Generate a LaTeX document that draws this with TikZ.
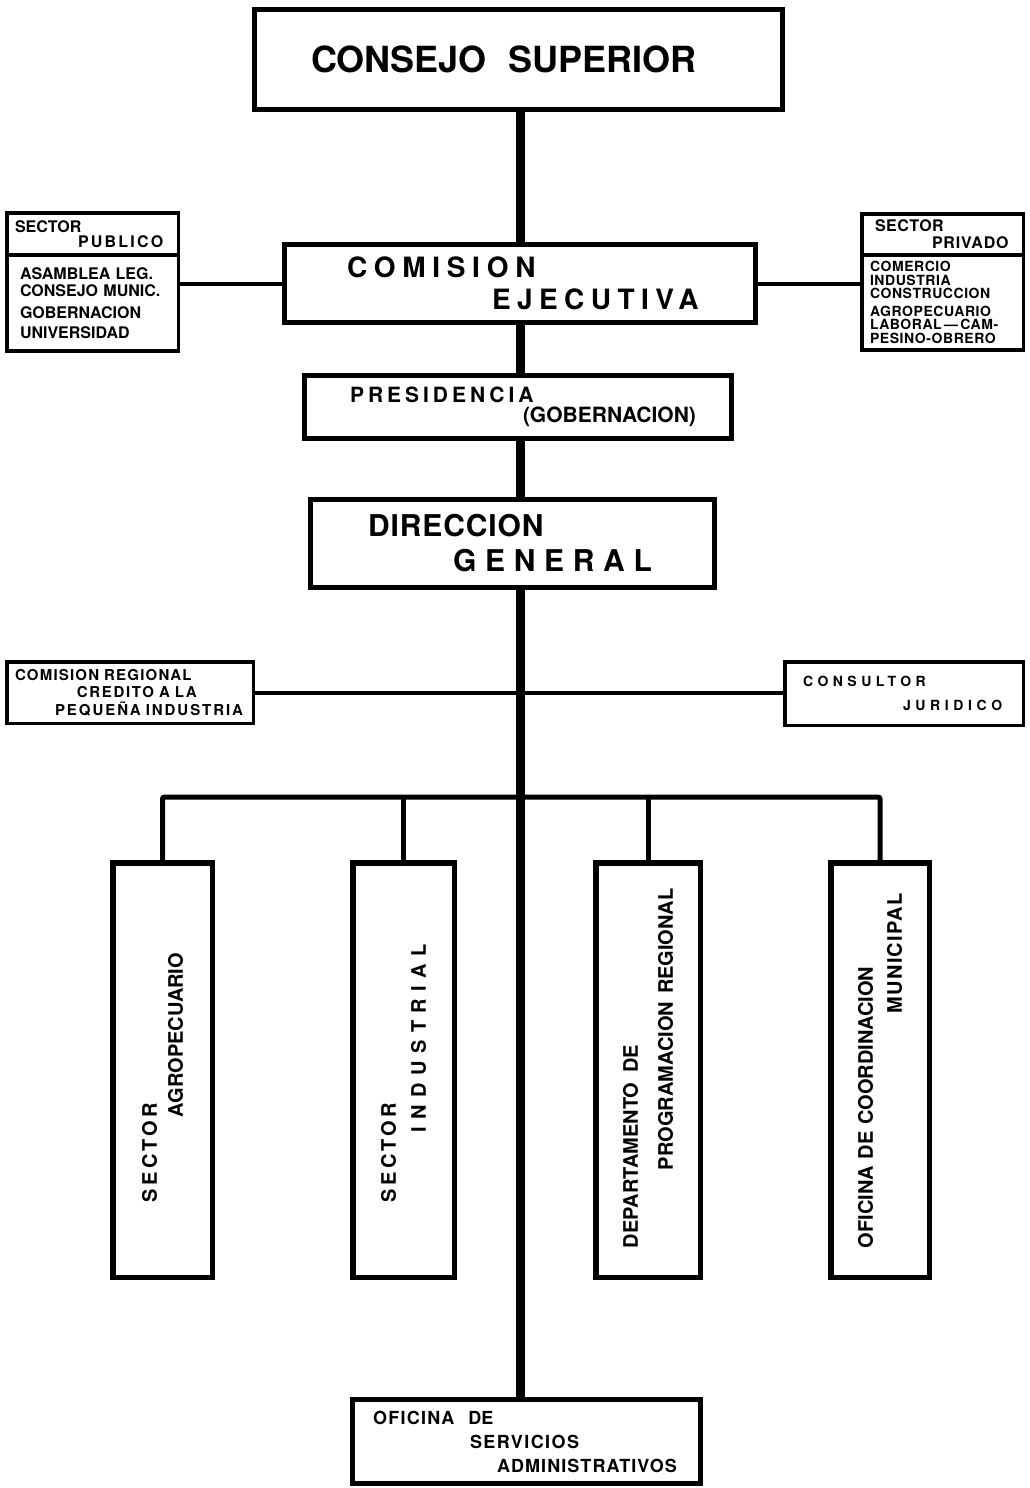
\documentclass[tikz,border=0pt]{standalone}
\usepackage{fontspec}
\setmainfont{TeX Gyre Heros}
\newcommand{\lsp}[2]{{\addfontfeature{LetterSpace=#1}#2}}
\newcommand{\boxfont}[2]{\bfseries\fontsize{#1}{#2}\selectfont}

\begin{document}
\begin{tikzpicture}[x=1pt,y=-1pt]
  \tikzstyle{box}=[draw,line width=5pt,align=left,inner ysep=0pt]
  \tikzstyle{small}=[draw,line width=3.5pt,align=left,inner ysep=0pt]
  \tikzstyle{tall}=[box,line width=5.5pt,rotate=90,minimum width=414.5pt]
  \tikzstyle{spine}=[line width=9pt]
  \tikzstyle{link}=[line width=4pt]
  \tikzstyle{busline}=[line width=5pt,rounded corners=2pt]
  \useasboundingbox (0,0) rectangle (1030,1488);

  % main column
  \node[box,minimum height=100pt,text width=415pt,inner xsep=56.5pt,font=\boxfont{36}{40}] (consejo) at (518.5,59.5) {CONSEJO\hspace{22pt}SUPERIOR};
  \node[box,minimum height=78pt,text width=346pt,inner xsep=62.5pt,font=\boxfont{28}{32}] (comision) at (520,283.5) {\lsp{24}{COMISION}\\\hspace*{145pt}\lsp{23}{EJECUTIVA}};
  \node[box,minimum height=63pt,text width=336pt,inner xsep=45.5pt,font=\boxfont{21}{20}] (presid) at (518,407) {\lsp{19}{PRESIDENCIA}\\\mbox{\hspace*{173pt}(GOBERNACION)}};
  \node[box,minimum height=88pt,text width=289pt,inner xsep=57.5pt,font=\boxfont{30}{35}] (direccion) at (512.5,543.5) {\lsp{3}{DIRECCION}\\\hspace*{85pt}\lsp{29}{GENERAL}};
  \node[box,minimum height=84pt,text width=307pt,inner xsep=20.5pt,font=\boxfont{18}{24}] (servicios) at (526.5,1441.5) {\lsp{7}{OFICINA}\hspace{14pt}DE\\\hspace*{97pt}\lsp{8}{SERVICIOS}\\\hspace*{124pt}\lsp{6}{ADMINISTRATIVOS}};

  % sectors beside the commission
  \node[small,minimum height=42.25pt,text width=155pt,inner xsep=8.25pt,font=\boxfont{16}{15}] (publico-h) at (92.5,233.9) {SECTOR\\\hspace*{63pt}\lsp{14}{PUBLICO}};
  \node[small,minimum height=96.25pt,text width=145pt,inner xsep=13.25pt,font=\boxfont{16}{17}] (publico) at (92.5,303.1) {ASAMBLEA LEG.\\CONSEJO MUNIC.\\[4.5pt]GOBERNACION\\[3pt]UNIVERSIDAD};
  \node[small,minimum height=41.25pt,text width=135pt,inner xsep=13.25pt,font=\boxfont{16}{17}] (privado-h) at (942.5,234.4) {\lsp{3}{SECTOR}\\\hspace*{57pt}\lsp{5}{PRIVADO}};
  \node[small,minimum height=95.25pt,text width=145pt,inner xsep=8.25pt,font=\boxfont{14}{13.5}] (privado) at (942.5,302.6) {\lsp{4}{COMERCIO}\\\lsp{4}{INDUSTRIA}\\\lsp{4}{CONSTRUCCION}\\[4pt]\lsp{4}{AGROPECUARIO}\\\lsp{4}{LABORAL\,---\,CAM-}\\\lsp{4}{PESINO-OBRERO}};

  % staff units
  \node[small,minimum height=61.5pt,text width=230pt,inner xsep=8.25pt,font=\boxfont{15}{17.5}] (regional) at (130,692.5) {\lsp{8}{COMISION REGIONAL}\\\hspace*{62pt}\lsp{11}{CREDITO A LA}\\\hspace*{40pt}\lsp{13}{PEQUEÑA INDUSTRIA}};
  \node[small,minimum height=63.5pt,text width=202pt,inner xsep=18.25pt,font=\boxfont{14}{24}] (consultor) at (904,693.5) {\lsp{32}{CONSULTOR}\\\hspace*{100pt}\lsp{33}{JURIDICO}};

  % line units
  \node[tall,minimum height=99.5pt,text width=264pt,inner xsep=75.25pt,font=\boxfont{20}{26}] (agro) at (162.5,1070) {\lsp{16}{SECTOR}\\\hspace*{85pt}AGROPECUARIO};
  \node[tall,minimum height=101.5pt,text width=264pt,inner xsep=75.25pt,font=\boxfont{20}{30}] (indus) at (403.5,1070) {\lsp{16}{SECTOR}\\\hspace*{70pt}\lsp{37}{INDUSTRIAL}};
  \node[tall,minimum height=104.5pt,text width=356pt,inner xsep=29.25pt,font=\boxfont{20}{35}] (depto) at (648,1070) {\mbox{DEPARTAMENTO\hspace{10pt}DE}\\\mbox{\hspace*{78pt}PROGRAMACION\hspace{8pt}REGIONAL}};
  \node[tall,minimum height=98.5pt,text width=356pt,inner xsep=29.25pt,font=\boxfont{20}{29}] (muni) at (880,1070) {\mbox{OFICINA DE COORDINACION}\\\mbox{\hspace*{235pt}\lsp{6}{MUNICIPAL}}};

  \coordinate (bus) at (520,797);

  % connectors
  \draw[spine] (consejo.south -| comision) -- (comision.north);
  \draw[spine] (comision.south) -- (comision.south |- presid.north);
  \draw[spine] (presid.south -| comision) -- (direccion.north -| comision);
  \draw[spine] (direccion.south -| comision) -- (servicios.north -| comision);
  \draw[link] (comision.west) -- (comision.west -| publico.east);
  \draw[link] (comision.east) -- (comision.east -| privado.west);
  \draw[link] (regional.east) -- (regional.east -| consultor.west);
  \draw[busline] (agro) |- (bus) -| (muni);
  \draw[busline] (indus) -- (indus |- bus);
  \draw[busline] (depto) -- (depto |- bus);
\end{tikzpicture}
\end{document}
